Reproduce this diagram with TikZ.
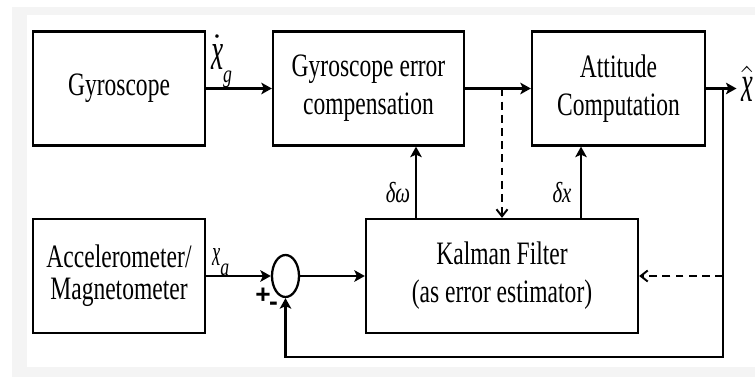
\documentclass[tikz,border=0pt]{standalone}
\usepackage{fontspec}
\setmainfont{Liberation Serif}[FakeStretch=0.72]
\newfontfamily\LabelFont{Liberation Serif}[FakeStretch=0.5]
\newfontfamily\SignFont{Liberation Sans}
\usetikzlibrary{arrows.meta,shapes.geometric}
\definecolor{FrameGray}{gray}{0.955}
\newcommand{\SubText}[2][7pt]{\raisebox{-#1}{\rmfamily\itshape\fontsize{14}{14}\selectfont #2}}

\begin{document}
\begin{tikzpicture}[
  line width=1.3pt,
  >={Stealth[length=2.1mm,width=2.3mm,inset=0.5mm]},
  block/.style={draw,minimum height=2.28cm,inner sep=0pt,align=center,
                font=\fontsize{18.6}{21.5}\selectfont},
  sumnode/.style={draw,ellipse,minimum width=0.54cm,minimum height=0.84cm,inner sep=0pt},
  varlabel/.style={inner sep=0pt,anchor=base west,
                   font=\LabelFont\itshape\fontsize{#1}{#1}\selectfont},
  dlabel/.style={inner sep=0pt,font=\itshape\fontsize{16.5}{16.5}\selectfont},
  sign/.style={inner sep=0pt,font=\SignFont\bfseries\fontsize{15}{15}\selectfont},
  estline/.style={line width=1.1pt,dash pattern=on 4.5pt off 3pt,
                  -{Straight Barb[length=1.4mm,width=2.2mm]}},
]
  \fill[FrameGray] (0.24,0.08) rectangle (15.1,7.48);
  \fill[white] (0.54,0.28) rectangle (15.1,7.32);
  \useasboundingbox (0,0) rectangle (15.1,7.62);

  \node[block,minimum width=3.44cm] (gyro) at (2.38,5.85) {Gyroscope};
  \node[block,minimum width=3.82cm] (comp) at (7.37,5.85) {Gyroscope error\\compensation};
  \node[block,minimum width=3.46cm] (att) at (12.37,5.85) {Attitude\\Computation};
  \node[block,minimum width=3.44cm,font=\fontsize{18.6}{18}\selectfont] (accel) at (2.38,2.1)
    {Accelerometer/\\Magnetometer};
  \node[block,minimum width=5.44cm] (kalman) at (10.04,2.1) {Kalman Filter\\(as error estimator)};
  \node[sumnode] (sum) at (5.71,2.1) {};

  \node[varlabel=31] (xg) at (4.2,6.22) {$\dot{\mbox{x}}$\SubText{g}};
  \node[varlabel=21] (xa) at (4.22,2.3) {x\SubText[5.5pt]{a}};
  \node[varlabel=30,inner xsep=2pt] (xhat) at (14.73,5.58) {$\hat{\mbox{x}}$};
  \node[dlabel] (wlab) at (7.96,3.76) {δω};
  \node[dlabel] (xlab) at (11.24,3.76) {δx};
  \node[sign] (plus) at (5.26,1.70) {+};
  \node[sign] (minus) at (5.47,1.49) {-};

  \coordinate (split) at (14.46,5.85);
  \coordinate (low) at (0,0.48);
  \coordinate (wfoot) at (8.32,3.24);
  \coordinate (xfoot) at (11.62,3.24);

  \draw[->] (gyro) -- (comp);
  \draw[->] (comp) -- (att);
  \draw[->] (att) -- (att.east -| xhat.west);
  \draw[->] (split) -- (split |- low) -| (sum.south);
  \draw[->] (accel) -- (sum);
  \draw[->] (sum) -- (kalman);
  \draw[->] (wfoot) -- (wfoot |- comp.south);
  \draw[->] (xfoot) -- (xfoot |- att.south);
  \draw[estline] (kalman.north |- comp.east) -- (kalman.north);
  \draw[estline] (kalman.east -| split) -- (kalman.east);
\end{tikzpicture}
\end{document}
